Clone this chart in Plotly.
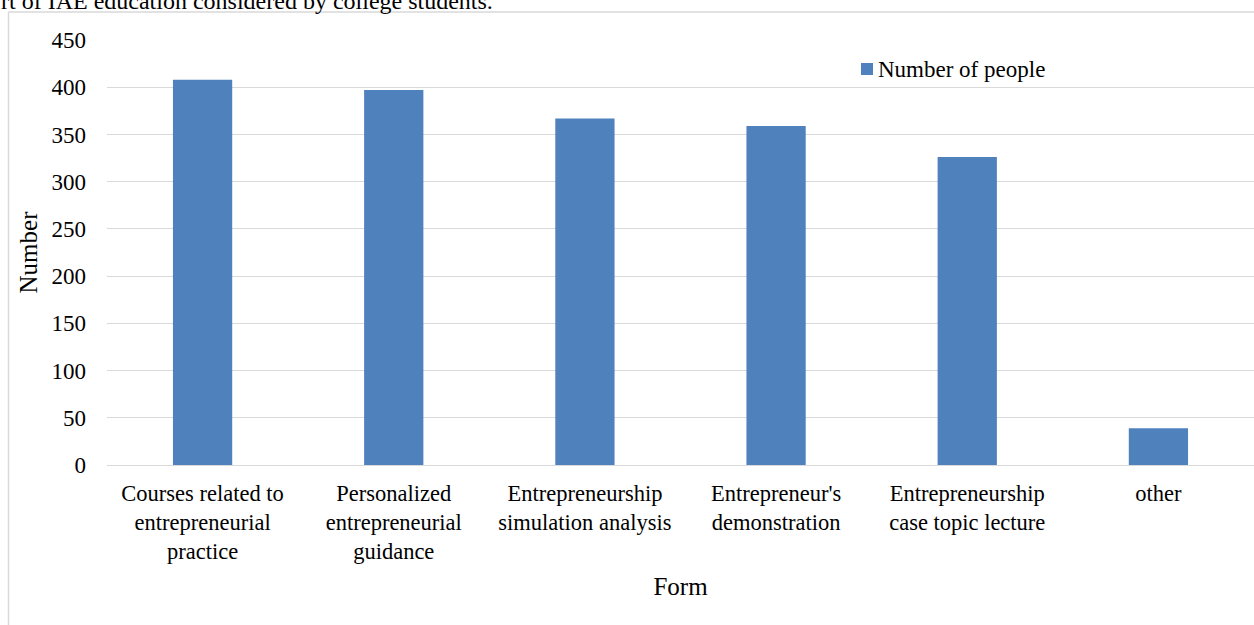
import plotly.graph_objects as go

categories = [
    "Courses related to<br>entrepreneurial<br>practice",
    "Personalized<br>entrepreneurial<br>guidance",
    "Entrepreneurship<br>simulation analysis",
    "Entrepreneur's<br>demonstration",
    "Entrepreneurship<br>case topic lecture",
    "other",
]
values = [408, 397, 367, 359, 326, 39]
tick_vals = [0, 50, 100, 150, 200, 250, 300, 350, 400, 450]
series_name = "Number of people"

W, H = 1254, 625
L, R, T, B = 107, 0, 40, 160
pw, ph = W - L - R, H - T - B

def px_x(x):
    return (x - L) / pw

def px_y(y):
    return (H - B - y) / ph

FONT = "Liberation Serif"
BAR = "#4f81bd"

fig = go.Figure()
fig.add_trace(go.Bar(
    x=categories, y=values, name=series_name,
    marker=dict(color=BAR, line=dict(width=0)),
    width=0.31, showlegend=False,
))

fig.update_layout(
    width=W, height=H,
    margin=dict(l=L, r=R, t=T, b=B, autoexpand=False),
    paper_bgcolor="white", plot_bgcolor="white",
    font=dict(family=FONT, size=23, color="black"),
    showlegend=False,
    xaxis=dict(showline=False, ticks="", tickfont=dict(size=22.5),
               ticklabelstandoff=12,
               title=dict(text="Form", font=dict(size=25), standoff=14),
               fixedrange=True),
    yaxis=dict(range=[0, 450], tickvals=tick_vals, showgrid=True,
               gridcolor="#d9d9d9", gridwidth=1, zeroline=True,
               zerolinecolor="#d9d9d9", zerolinewidth=1,
               ticks="", ticklabelstandoff=20, tickfont=dict(size=23),
               title=dict(text="Number", font=dict(size=25), standoff=6)),
    shapes=[
        dict(type="line", xref="paper", yref="paper",
             x0=px_x(8.5), x1=px_x(8.5), y0=px_y(12), y1=px_y(H + 5),
             line=dict(color="#d9d9d9", width=1.5)),
        dict(type="line", xref="paper", yref="paper",
             x0=px_x(8.5), x1=px_x(W + 5), y0=px_y(12), y1=px_y(12),
             line=dict(color="#d9d9d9", width=1.5)),
        dict(type="rect", xref="paper", yref="paper",
             x0=px_x(861), x1=px_x(873), y0=px_y(63), y1=px_y(75),
             fillcolor=BAR, line=dict(width=0)),
    ],
    annotations=[
        dict(text="rt of IAE education considered by college students.",
             xref="paper", yref="paper", x=px_x(-1), y=px_y(1),
             xanchor="left", yanchor="middle", showarrow=False,
             font=dict(family=FONT, size=24, color="black")),
        dict(text=series_name, xref="paper", yref="paper",
             x=px_x(876), y=px_y(69), xanchor="left", yanchor="middle",
             showarrow=False, font=dict(family=FONT, size=23, color="black")),
    ],
)

fig.write_html("out.html")
